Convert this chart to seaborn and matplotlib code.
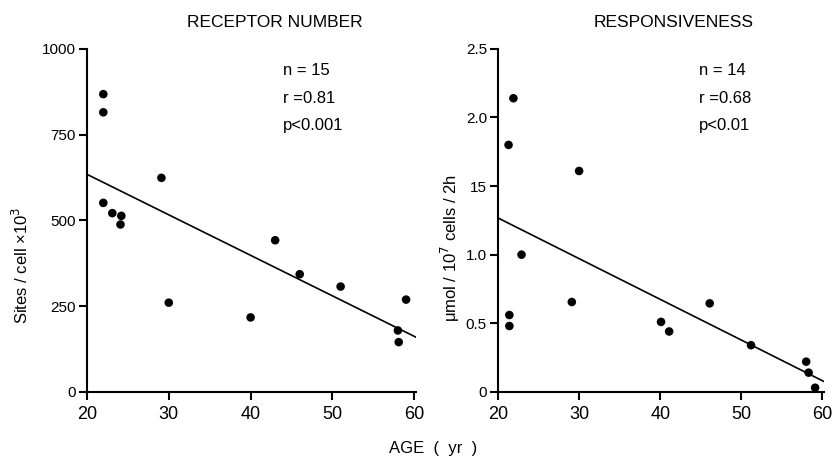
"""Receptor number and responsiveness versus age, two scatter panels with fits."""
import matplotlib.pyplot as plt
import numpy as np
import pandas as pd
import seaborn as sns

# receptor number panel (n = 15)
receptor_age = [22.0, 22.0, 22.0, 23.1, 24.2, 24.1, 29.1, 30.0, 40.0, 43.0, 46.0, 51.0, 59.0, 58.0, 58.1]
receptor_sites = [868, 815, 551, 521, 513, 488, 624, 260, 217, 442, 343, 307, 269, 179, 145]

# responsiveness panel (n = 14)
resp_age = [21.3, 21.9, 30.0, 22.9, 21.4, 21.4, 29.1, 40.1, 41.1, 46.1, 51.2, 58.0, 58.3, 59.1]
resp_umol = [1.80, 2.14, 1.61, 1.00, 0.56, 0.48, 0.655, 0.51, 0.44, 0.645, 0.34, 0.22, 0.14, 0.03]

age_ticks = [20, 30, 40, 50, 60]
receptor_ticks = [0, 250, 500, 750, 1000]
resp_ticks = [0, 0.5, 1.0, 1.5, 2.0, 2.5]
resp_tick_labels = ["0", "0.5", "1.0", "15", "2.0", "2.5"]

receptor_stats = ["n = 15", "r =0.81", "p<0.001"]
resp_stats = ["n = 14", "r =0.68", "p<0.01"]

sns.set_theme(style="ticks")
plt.rcParams["font.family"] = ["Liberation Sans", "DejaVu Sans"]
plt.rcParams.update({
    "axes.linewidth": 1.5,
    "xtick.major.width": 1.5,
    "ytick.major.width": 1.5,
    "xtick.major.size": 6,
    "ytick.major.size": 6,
    "xtick.color": "black",
    "ytick.color": "black",
    "axes.edgecolor": "black",
    "axes.labelcolor": "black",
    "text.color": "black",
})

df_rec = pd.DataFrame({"age": receptor_age, "sites": receptor_sites})
df_resp = pd.DataFrame({"age": resp_age, "umol": resp_umol})

fig = plt.figure(figsize=(8.36, 4.61), dpi=100)
ax1 = fig.add_axes([0.104, 0.150, 0.3935, 0.744])
ax2 = fig.add_axes([0.5957, 0.150, 0.390, 0.744])

scatter_kws = {"s": 38, "color": "black", "edgecolor": "none", "alpha": 1}
line_kws = {"color": "black", "linewidth": 1.2}


def draw_panel(ax, data, ycol, ymax, yticks, ylabels, title, title_x, stats, stats_x):
    ax.set_xlim(20, 60.2)
    sns.regplot(data=data, x="age", y=ycol, ax=ax, ci=None, truncate=False,
                scatter_kws=scatter_kws, line_kws=line_kws)
    ax.set_xlim(20, 60.2)
    ax.set_ylim(0, ymax)
    ax.set_xticks(age_ticks)
    ax.set_xticklabels([str(t) for t in age_ticks], fontsize=13)
    ax.set_yticks(yticks)
    ax.set_yticklabels(ylabels, fontsize=11)
    ax.tick_params(axis="y", pad=2)
    ax.tick_params(axis="x", pad=4)
    ax.set_xlabel("")
    sns.despine(ax=ax)
    ax.text(title_x, 1.076, title, transform=ax.transAxes, ha="center",
            va="center", fontsize=12.5)
    for i, s in enumerate(stats):
        ax.text(stats_x, 0.936 - i * 0.08, s, transform=ax.transAxes,
                ha="left", va="center", fontsize=12)


draw_panel(ax1, df_rec, "sites", 1000, receptor_ticks,
           [str(t) for t in receptor_ticks], "RECEPTOR NUMBER", 0.57,
           receptor_stats, 0.595)
ax1.set_ylabel("Sites / cell \u00d710$^3$", fontsize=12)
ax1.yaxis.set_label_coords(-0.17, 0.37)

draw_panel(ax2, df_resp, "umol", 2.5, resp_ticks, resp_tick_labels,
           "RESPONSIVENESS", 0.54, resp_stats, 0.615)
ax2.set_ylabel("\u03bcmol / 10$^7$ cells / 2h", fontsize=12)
ax2.yaxis.set_label_coords(-0.11, 0.42)

fig.text(0.518, 0.028, "AGE  (  yr  )", ha="center", va="center", fontsize=12)

fig.savefig("out.png", dpi=100, facecolor="white")
plt.close(fig)
